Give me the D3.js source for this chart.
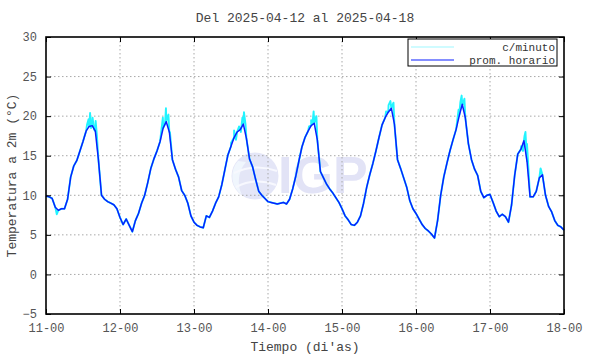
<!DOCTYPE html>
<html>
<head>
<meta charset="utf-8">
<script src="https://cdn.jsdelivr.net/npm/d3@7"></script>
<style>
  body { margin: 0; background: #fff; }
  text { font-family: "Liberation Mono", "DejaVu Sans Mono", monospace; }
</style>
</head>
<body>
<svg id="chart"></svg>
<script>
// tick labels
const dayLabels = ["11-00", "12-00", "13-00", "14-00", "15-00", "16-00", "17-00", "18-00"];
const tempTicks = [-5, 0, 5, 10, 15, 20, 25, 30];

// hourly average (prom. horario), one value per hour from 11-00 to 18-00
const hourly = [
  // 11
  9.9, 9.8, 9.6, 8.5, 8.1, 8.3, 8.3, 9.5, 12.3, 13.7, 14.4, 15.6,
  16.8, 18.1, 18.7, 18.8, 18.1, 14.5, 10.0, 9.5, 9.2, 9.0, 8.8, 8.3,
  // 12
  7.2, 6.3, 7.0, 6.2, 5.4, 6.8, 7.7, 9.0, 10.0, 11.6, 13.4, 14.6,
  15.6, 16.8, 18.5, 19.3, 18.0, 14.5, 13.3, 12.3, 10.6, 10.0, 9.0, 7.4,
  // 13
  6.6, 6.2, 6.0, 5.9, 7.4, 7.2, 8.0, 9.0, 9.8, 11.3, 13.2, 15.1,
  16.2, 17.3, 18.0, 18.3, 19.0, 17.2, 14.6, 13.6, 12.0, 10.5, 10.0, 9.6,
  // 14
  9.2, 9.1, 9.0, 8.9, 9.0, 9.1, 8.9, 9.5, 10.8, 12.4, 14.3, 16.1,
  17.3, 18.1, 18.8, 19.1, 17.0, 13.0, 12.2, 11.4, 10.8, 10.3, 9.7, 9.1,
  // 15
  8.3, 7.4, 6.9, 6.3, 6.2, 6.6, 7.4, 9.0, 11.0, 12.6, 14.0, 15.6,
  17.3, 18.9, 19.8, 20.5, 21.0, 19.0, 14.5, 13.4, 12.2, 11.0, 9.3, 8.3,
  // 16
  7.7, 7.0, 6.3, 5.8, 5.5, 5.1, 4.6, 6.8, 10.0, 12.3, 14.0, 15.6,
  17.0, 18.3, 20.0, 21.5, 19.8, 16.5, 14.5, 13.3, 12.5, 10.5, 9.7, 10.0,
  // 17
  10.1, 9.1, 8.0, 7.3, 7.6, 7.3, 6.6, 8.8, 12.5, 15.2, 15.8, 16.9,
  14.3, 9.8, 9.8, 10.5, 12.2, 12.6, 10.0, 8.6, 7.9, 6.8, 6.2, 6.0,
  // 18
  5.6
];

// per-minute readings (c/minuto): departures seen around the hourly line, [hour, °C]
const minuteSpikes = [
  [3.5, 7.6],
  [12.6, 17.6], [13.3, 18.9], [13.8, 19.6], [14.3, 20.4], [14.6, 18.5], [15.1, 19.8], [15.6, 18.3], [16.1, 19.4], [16.5, 17.6],
  [37.9, 19.8], [38.6, 19.0], [38.9, 21.0], [39.2, 19.6], [39.7, 20.2], [40.2, 18.0],
  [60.0, 16.6], [61.0, 18.2], [61.6, 17.0], [62.6, 18.7], [63.2, 18.0], [63.7, 19.8], [64.2, 20.5], [64.7, 19.0],
  [85.3, 18.7], [86.0, 19.5], [86.4, 19.0], [86.8, 20.6], [87.2, 19.5], [87.7, 20.0],
  [110.3, 20.6], [111.1, 21.4], [111.7, 21.9], [112.2, 21.2], [112.7, 21.7],
  [133.8, 20.8], [134.4, 21.8], [134.8, 22.6], [135.2, 21.5], [135.7, 22.2],
  [154.1, 16.2], [154.7, 15.6], [155.2, 17.5], [155.5, 18.0], [156.0, 16.5], [160.4, 13.4]
];

const W = 590, H = 354;
const margin = { top: 37, right: 26, bottom: 40, left: 46 };
const innerW = W - margin.left - margin.right,
      innerH = H - margin.top - margin.bottom;

const svg = d3.select("#chart").attr("width", W).attr("height", H);

const x = d3.scaleLinear().domain([0, 168]).range([0, innerW]);
const y = d3.scaleLinear().domain([-5, 30]).range([innerH, 0]);

const g = svg.append("g")
  .attr("transform", "translate(" + margin.left + "," + margin.top + ")");

// watermark logo
const logo = g.append("g");
logo.append("circle").attr("cx", 209).attr("cy", 139).attr("r", 23.5).attr("fill", "#e4e6f7");
logo.append("path")
  .attr("d", "M192,124 A23,23 0 0 0 196,158 A30,30 0 0 1 200,125 Z")
  .attr("fill", "#f0f6fd");
logo.append("path")
  .attr("d", "M190,150 Q209,140 230,148 M188,136 Q209,126 231,134")
  .attr("fill", "none").attr("stroke", "#f7f8fe").attr("stroke-width", 2);
logo.append("text")
  .attr("x", 232).attr("y", 156)
  .attr("font-weight", "bold").attr("font-size", 52)
  .attr("fill", "#e2e3f6")
  .style("font-family", "'Liberation Sans', Arial, sans-serif")
  .text("IGP");

// grid
const xTickVals = dayLabels.map((d, i) => i * 24);
g.append("g").selectAll("line.gx")
  .data(xTickVals.slice(1, -1)).enter().append("line")
  .attr("x1", d => x(d)).attr("x2", d => x(d))
  .attr("y1", 0).attr("y2", innerH)
  .attr("stroke", "#a8a8a8").attr("stroke-dasharray", "1.5,2.5");
g.append("g").selectAll("line.gy")
  .data(tempTicks.slice(1, -1)).enter().append("line")
  .attr("x1", 0).attr("x2", innerW)
  .attr("y1", d => y(d)).attr("y2", d => y(d))
  .attr("stroke", "#a8a8a8").attr("stroke-dasharray", "1.5,2.5");

// series
const minutePts = hourly.map((v, i) => [i, v]).concat(minuteSpikes)
  .sort((a, b) => a[0] - b[0]);

const line = d3.line().x(d => x(d[0])).y(d => y(d[1]));

g.append("path")
  .datum(minutePts)
  .attr("fill", "none").attr("stroke", "#22f4ff").attr("stroke-width", 1.9)
  .attr("stroke-linejoin", "round")
  .attr("d", line);

g.append("path")
  .datum(hourly.map((v, i) => [i, v]))
  .attr("fill", "none").attr("stroke", "#0a1eff").attr("stroke-width", 1.5)
  .attr("stroke-linejoin", "round")
  .attr("d", line);

// axes (ticks inward on all four sides)
const xAxisB = d3.axisBottom(x).tickValues(xTickVals)
  .tickFormat((d, i) => dayLabels[i]).tickSizeInner(-5).tickSizeOuter(0).tickPadding(9);
const xAxisT = d3.axisTop(x).tickValues(xTickVals)
  .tickFormat("").tickSizeInner(-5).tickSizeOuter(0);
const yAxisL = d3.axisLeft(y).tickValues(tempTicks)
  .tickSizeInner(-5).tickSizeOuter(0).tickPadding(9);
const yAxisR = d3.axisRight(y).tickValues(tempTicks)
  .tickFormat("").tickSizeInner(-5).tickSizeOuter(0);

const styleAxis = sel => {
  sel.select(".domain").remove();
  sel.selectAll(".tick line").attr("stroke", "#000");
  sel.selectAll(".tick text")
    .attr("fill", "#555").attr("font-size", 12)
    .style("font-family", "'Liberation Mono', monospace");
};

g.append("g").attr("transform", "translate(0," + innerH + ")").call(xAxisB).call(styleAxis);
g.append("g").call(xAxisT).call(styleAxis);
g.append("g").call(yAxisL).call(styleAxis);
g.append("g").attr("transform", "translate(" + innerW + ",0)").call(yAxisR).call(styleAxis);

// frame
g.append("rect")
  .attr("width", innerW).attr("height", innerH)
  .attr("fill", "none").attr("stroke", "#000").attr("stroke-width", 1.6);

// legend
const leg = g.append("g").attr("transform", "translate(" + (408 - margin.left) + "," + (39 - margin.top) + ")");
leg.append("rect").attr("width", 149).attr("height", 27)
  .attr("fill", "#fff").attr("stroke", "#000").attr("stroke-width", 1);
const legItems = [
  { label: "c/minuto", color: "#9ff8ff" },
  { label: "prom. horario", color: "#0a1eff" }
];
legItems.forEach((it, i) => {
  const yy = 8 + i * 13;
  leg.append("line").attr("x1", 3).attr("x2", 46).attr("y1", yy).attr("y2", yy)
    .attr("stroke", it.color).attr("stroke-width", 1.2);
  leg.append("text").attr("x", 147).attr("y", yy + 4)
    .attr("text-anchor", "end").attr("font-size", 11).attr("fill", "#333")
    .text(it.label);
});

// titles
svg.append("text")
  .attr("x", margin.left + innerW / 2).attr("y", 22)
  .attr("text-anchor", "middle").attr("font-size", 13).attr("fill", "#444")
  .text("Del 2025-04-12 al 2025-04-18");

svg.append("text")
  .attr("x", margin.left + innerW / 2).attr("y", 351)
  .attr("text-anchor", "middle").attr("font-size", 13).attr("fill", "#444")
  .text("Tiempo (di'as)");

svg.append("text")
  .attr("transform", "translate(16," + (margin.top + innerH / 2) + ") rotate(-90)")
  .attr("text-anchor", "middle").attr("font-size", 13).attr("fill", "#444")
  .text("Temperatura a 2m (°C)");
</script>
</body>
</html>
